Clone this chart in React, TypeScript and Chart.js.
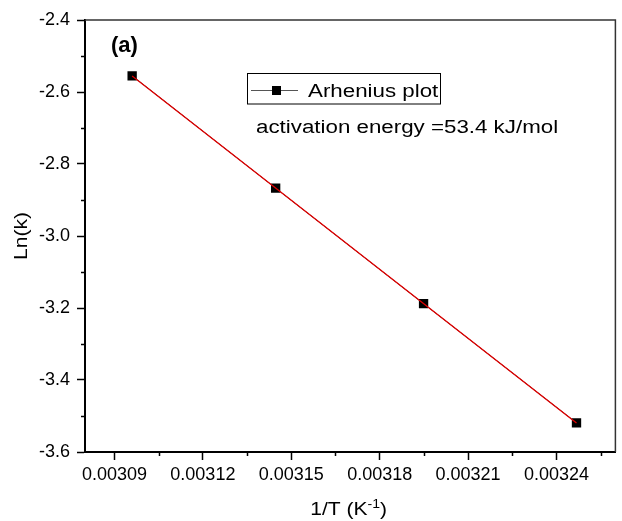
import React, { useEffect, useRef } from "react";
import { Chart, registerables } from "chart.js";

Chart.register(...registerables);

// ---- data ----
const invT = [0.003096, 0.0031447, 0.0031949, 0.0032468];
const lnK = [-2.555, -2.867, -3.188, -3.519];
const fitX = [0.003096, 0.0032468];
const fitY = [-2.5556, -3.5195];
const xTicks = [0.00309, 0.00312, 0.00315, 0.00318, 0.00321, 0.00324];
const xMinorTicks = [0.003105, 0.003135, 0.003165, 0.003195, 0.003225, 0.003255];
const yTicks = [-3.6, -3.4, -3.2, -3.0, -2.8, -2.6, -2.4];
const yMinorTicks = [-3.5, -3.3, -3.1, -2.9, -2.7, -2.5];
const xRange = [0.00308, 0.00326];
const yRange = [-3.6, -2.4];
const legendLabel = "Arhenius plot";
const annotationText = "activation energy =53.4 kJ/mol";
const panelLabel = "(a)";
const xTitleParts = ["1/T (K", "-1", ")"];
const yTitleText = "Ln(k)";

const FONT = "'Liberation Sans', Arial, Helvetica, sans-serif";

function stretchText(
  ctx: CanvasRenderingContext2D,
  text: string,
  x: number,
  y: number,
  font: string,
  sx: number,
  align: CanvasTextAlign = "left"
) {
  ctx.save();
  ctx.font = font;
  ctx.fillStyle = "#000";
  ctx.textBaseline = "alphabetic";
  ctx.textAlign = align;
  ctx.translate(x, y);
  ctx.scale(sx, 1);
  ctx.fillText(text, 0, 0);
  ctx.restore();
}

const decorPlugin = {
  id: "decor",
  afterDraw(chart: any) {
    const ctx: CanvasRenderingContext2D = chart.ctx;
    const { left, right, top, bottom } = chart.chartArea;
    const xs = chart.scales.x;
    const ys = chart.scales.y;

    ctx.save();
    // top & right frame
    ctx.strokeStyle = "#333";
    ctx.lineWidth = 1.5;
    ctx.beginPath();
    ctx.moveTo(left, top);
    ctx.lineTo(right, top);
    ctx.lineTo(right, bottom);
    ctx.stroke();

    // minor ticks
    ctx.strokeStyle = "#000";
    ctx.lineWidth = 1.5;
    ctx.beginPath();
    xMinorTicks.forEach((v) => {
      const px = Math.round(xs.getPixelForValue(v)) + 0.5;
      ctx.moveTo(px, bottom);
      ctx.lineTo(px, bottom + 4);
    });
    yMinorTicks.forEach((v) => {
      const py = Math.round(ys.getPixelForValue(v)) + 0.5;
      ctx.moveTo(left, py);
      ctx.lineTo(left - 4, py);
    });
    ctx.stroke();

    // legend box
    const lx = left + 162;
    const ly = top + 53;
    ctx.strokeStyle = "#000";
    ctx.lineWidth = 1;
    ctx.strokeRect(lx + 0.5, ly + 0.5, 193, 30.5);
    ctx.strokeStyle = "#555";
    ctx.beginPath();
    ctx.moveTo(lx + 4, ly + 17.5);
    ctx.lineTo(lx + 51, ly + 17.5);
    ctx.stroke();
    ctx.fillStyle = "#000";
    ctx.fillRect(lx + 25, ly + 13, 9, 9);
    stretchText(ctx, legendLabel, lx + 61, ly + 24, `18px ${FONT}`, 1.24);

    // annotation
    stretchText(ctx, annotationText, left + 171, top + 113, `18px ${FONT}`, 1.24);

    // panel label
    stretchText(ctx, panelLabel, left + 26, top + 32, `bold 22px ${FONT}`, 1.0);

    // x title
    const sx = 1.17;
    ctx.font = `18px ${FONT}`;
    const w1 = ctx.measureText(xTitleParts[0]).width * sx;
    const w3 = ctx.measureText(xTitleParts[2]).width * sx;
    ctx.font = `12px ${FONT}`;
    const w2 = ctx.measureText(xTitleParts[1]).width * sx;
    const total = w1 + w2 + w3;
    const cx = (left + right) / 2 - 1.5;
    let tx = cx - total / 2;
    const baseY = bottom + 63;
    stretchText(ctx, xTitleParts[0], tx, baseY, `18px ${FONT}`, sx);
    tx += w1;
    stretchText(ctx, xTitleParts[1], tx, baseY - 7, `12px ${FONT}`, sx);
    tx += w2;
    stretchText(ctx, xTitleParts[2], tx, baseY, `18px ${FONT}`, sx);

    // y title
    ctx.save();
    ctx.translate(27, (top + bottom) / 2);
    ctx.rotate(-Math.PI / 2);
    stretchText(ctx, yTitleText, 0, 0, `18px ${FONT}`, 1.17, "center");
    ctx.restore();

    ctx.restore();
  },
};

export default function App() {
  const ref = useRef<HTMLCanvasElement | null>(null);

  useEffect(() => {
    if (!ref.current) return;
    const chart = new Chart(ref.current, {
      type: "scatter",
      data: {
        datasets: [
          {
            label: "fit",
            data: fitX.map((x, i) => ({ x, y: fitY[i] })),
            showLine: true,
            borderColor: "#e00000",
            borderWidth: 1.3,
            pointRadius: 0,
            order: 0,
          },
          {
            label: legendLabel,
            data: invT.map((x, i) => ({ x, y: lnK[i] })),
            showLine: true,
            borderColor: "#333",
            borderWidth: 1,
            pointStyle: "rect",
            pointRadius: 6.6,
            pointBackgroundColor: "#000",
            pointBorderWidth: 0,
            order: 1,
          },
        ],
      },
      options: {
        responsive: false,
        animation: false,
        devicePixelRatio: 1,
        layout: { padding: { top: 20, right: 1, left: 0, bottom: 0 } },
        plugins: {
          legend: { display: false },
          tooltip: { enabled: false },
          title: { display: false },
        },
        scales: {
          x: {
            type: "linear",
            min: xRange[0],
            max: xRange[1],
            afterBuildTicks: (scale: any) => {
              scale.ticks = xTicks.map((value) => ({ value }));
            },
            afterFit: (scale: any) => {
              scale.height = 69;
            },
            grid: {
              display: true,
              drawOnChartArea: false,
              drawTicks: true,
              tickLength: 8,
              tickWidth: 1.5,
              tickColor: "#000",
              color: "#000",
            },
            border: { display: true, color: "#000", width: 2 },
            ticks: {
              padding: 4,
              maxRotation: 0,
              autoSkip: false,
              color: "#000",
              font: { family: FONT, size: 18 },
              callback: (v: any) => Number(v).toFixed(5),
            },
          },
          y: {
            type: "linear",
            min: yRange[0],
            max: yRange[1],
            afterBuildTicks: (scale: any) => {
              scale.ticks = yTicks.map((value) => ({ value }));
            },
            afterFit: (scale: any) => {
              scale.width = 85;
            },
            grid: {
              display: true,
              drawOnChartArea: false,
              drawTicks: true,
              tickLength: 8,
              tickWidth: 1.5,
              tickColor: "#000",
              color: "#000",
            },
            border: { display: true, color: "#000", width: 2 },
            ticks: {
              padding: 7,
              autoSkip: false,
              color: "#000",
              font: { family: FONT, size: 18 },
              callback: (v: any) => Number(v).toFixed(1),
            },
          },
        },
      },
      plugins: [decorPlugin],
    });
    return () => chart.destroy();
  }, []);

  return (
    <div style={{ position: "fixed", left: 0, top: 0, width: 622, height: 521, background: "#fff" }}>
      <canvas ref={ref} width={622} height={521} style={{ display: "block" }} />
    </div>
  );
}
